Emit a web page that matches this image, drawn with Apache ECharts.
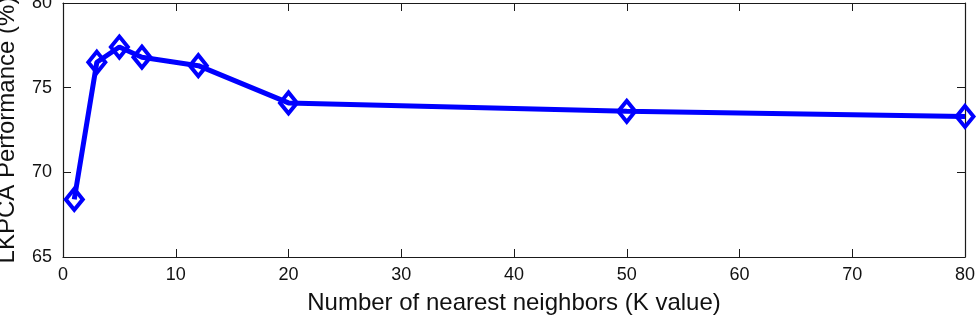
<!DOCTYPE html>
<html lang="en">
<head>
    <meta charset="utf-8">
    <title>LKPCA vs K</title>
    <script src="https://cdn.jsdelivr.net/npm/echarts@6/dist/echarts.min.js"></script>
    <style>
        html, body { margin: 0; padding: 0; background: #fff; }
        #main { width: 978px; height: 318px; }
    </style>
</head>
<body>
    <div id="main"></div>
    <script type="text/javascript">
        // K values and performance
        var kValues = [1, 3, 5, 7, 12, 20, 50, 80];
        var performance = [68.4, 76.5, 77.4, 76.8, 76.3, 74.1, 73.6, 73.3];
        var xTicks = [0, 10, 20, 30, 40, 50, 60, 70, 80];
        var yTicks = [65, 70, 75, 80];

        var font = 'Liberation Sans, Arial, Helvetica, sans-serif';
        var frame = '#1a1a1a';
        var blue = '#0000ff';

        var seriesData = kValues.map(function (k, i) { return [k, performance[i]]; });

        function frameAxis(extra) {
            var base = {
                axisLine: { show: true, onZero: false, lineStyle: { color: frame, width: 1.2 } },
                axisTick: { show: true, inside: true, length: 8, lineStyle: { color: frame, width: 1 } },
                splitLine: { show: false }
            };
            for (var key in extra) base[key] = extra[key];
            return base;
        }

        var myChart = echarts.init(document.getElementById('main'));
        myChart.setOption({
            animation: false,
            grid: { left: 63, right: 13, top: 3, bottom: 61, containLabel: false, outerBoundsMode: 'none' },
            xAxis: [
                frameAxis({
                    type: 'value',
                    min: xTicks[0],
                    max: xTicks[xTicks.length - 1],
                    interval: 10,
                    position: 'bottom',
                    name: 'Number of nearest neighbors (K value)',
                    nameLocation: 'middle',
                    nameGap: 34,
                    nameTextStyle: { fontFamily: font, fontSize: 24, color: '#111' },
                    axisLabel: { fontFamily: font, fontSize: 18, color: '#111', margin: 9 }
                }),
                frameAxis({
                    type: 'value',
                    min: xTicks[0],
                    max: xTicks[xTicks.length - 1],
                    interval: 10,
                    position: 'top',
                    axisLabel: { show: false }
                })
            ],
            yAxis: [
                frameAxis({
                    type: 'value',
                    min: yTicks[0],
                    max: yTicks[yTicks.length - 1],
                    interval: 5,
                    position: 'left',
                    name: 'LKPCA Performance (%)',
                    nameLocation: 'middle',
                    nameGap: 44,
                    nameTextStyle: { fontFamily: font, fontSize: 24, color: '#111' },
                    axisLabel: { fontFamily: font, fontSize: 18, color: '#111', margin: 11 }
                }),
                frameAxis({
                    type: 'value',
                    min: yTicks[0],
                    max: yTicks[yTicks.length - 1],
                    interval: 5,
                    position: 'right',
                    axisLabel: { show: false }
                })
            ],
            series: [{
                type: 'line',
                data: seriesData,
                symbol: 'diamond',
                symbolSize: [17, 21],
                showAllSymbol: true,
                clip: false,
                lineStyle: { color: blue, width: 5 },
                itemStyle: { color: 'rgba(0,0,0,0)', borderColor: blue, borderWidth: 4 }
            }]
        });
    </script>
</body>
</html>
